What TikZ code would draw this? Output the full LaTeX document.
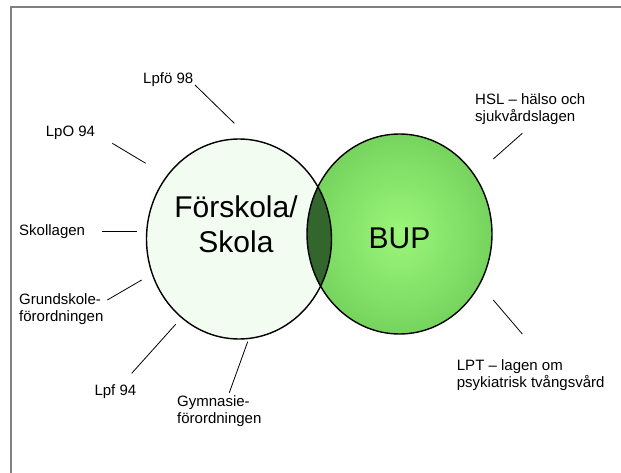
\documentclass[tikz,border=0pt]{standalone}
\usepackage{fontspec}
\setmainfont{Liberation Sans}
\begin{document}
\begin{tikzpicture}[x=1pt,y=-1pt,
  lbl/.style={anchor=north west,inner sep=0pt,align=left,font=\fontsize{15}{17}\selectfont},
  big/.style={inner sep=0pt,align=center,font=\fontsize{30}{35}\selectfont},
  tie/.style={draw=black,line width=0.8pt},
  rim/.style={draw=black,line width=1.4pt}]
\definecolor{paleg}{RGB}{242,252,240}
\definecolor{litg}{RGB}{155,246,122}
\definecolor{edgeg}{RGB}{118,212,94}
\definecolor{darkg}{RGB}{50,102,45}
\definecolor{framegray}{RGB}{128,128,128}
\useasboundingbox (0,0) rectangle (621,473);
\clip (0,0) rectangle (621,473);
% frame
\draw[framegray,line width=2pt] (11,480) -- (11,7) -- (630,7);
% circles
\fill[paleg] (239,239) ellipse [x radius=92.5,y radius=100];
\shade[inner color=litg,outer color=edgeg] (399.5,234) ellipse [x radius=92.5,y radius=100];
\begin{scope}
  \clip (239,239) ellipse [x radius=92.5,y radius=100];
  \fill[darkg] (399.5,234) ellipse [x radius=92.5,y radius=100];
\end{scope}
\draw[rim] (239,239) ellipse [x radius=92.5,y radius=100];
\draw[rim] (399.5,234) ellipse [x radius=92.5,y radius=100];
% big labels
\node[big,anchor=north] (fs) at (236,195.5) {Förskola/\\Skola};
\node[big,anchor=base] (bup) at (399.5,248) {BUP};
% small labels
\node[lbl] (lpfo) at (143,72.5) {Lpfö 98};
\node[lbl] (lpo) at (45.7,126) {LpO 94};
\node[lbl] (skl) at (19,224) {Skollagen};
\node[lbl] (gsf) at (19,293) {Grundskole-\\förordningen};
\node[lbl] (lpf) at (94.3,384) {Lpf 94};
\node[lbl] (gyf) at (177,395.5) {Gymnasie-\\förordningen};
\node[lbl] (hsl) at (475,93) {HSL – hälso och\\sjukvårdslagen};
\node[lbl] (lpt) at (456.7,359) {LPT – lagen om\\psykiatrisk tvångsvård};
% tie line ends
\coordinate (a1) at (195,85);      \coordinate (a2) at (234.3,123.3);
\coordinate (b1) at (112.3,143.3); \coordinate (b2) at (145.7,163.3);
\coordinate (c1) at (102.3,231);   \coordinate (c2) at (136.7,231);
\coordinate (d1) at (107.3,300);   \coordinate (d2) at (141.7,280);
\coordinate (e1) at (131.7,373.3); \coordinate (e2) at (175.7,324.3);
\coordinate (f1) at (229.3,392.7); \coordinate (f2) at (247.7,341.7);
\coordinate (g1) at (522.3,133.3); \coordinate (g2) at (493.3,159);
\coordinate (h1) at (493.3,300);   \coordinate (h2) at (522.3,334);
\draw[tie] (a1) -- (a2);
\draw[tie] (b1) -- (b2);
\draw[tie] (c1) -- (c2);
\draw[tie] (d1) -- (d2);
\draw[tie] (e1) -- (e2);
\draw[tie] (f1) -- (f2);
\draw[tie] (g1) -- (g2);
\draw[tie] (h1) -- (h2);
\end{tikzpicture}
\end{document}
